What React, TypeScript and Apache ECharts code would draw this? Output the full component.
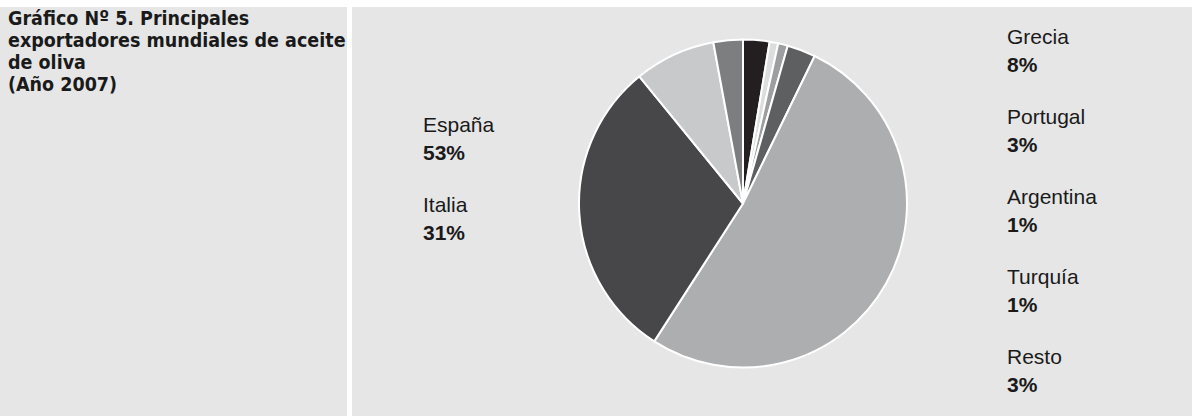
import React, { useEffect, useRef } from "react";
import * as echarts from "echarts";

const titleLines = [
  "Gráfico Nº 5. Principales",
  "exportadores mundiales de aceite",
  "de oliva",
  "(Año 2007)",
];

// slices clockwise from 12 o'clock (share of angle, %)
const sliceNames = ["Otros", "Argentina", "Turquía", "Resto", "España", "Italia", "Grecia", "Portugal"];
const sliceValues = [2.6, 0.85, 0.95, 2.8, 51.9, 30.0, 8.0, 2.9];
const sliceColors = ["#231f20", "#dcdddd", "#9d9ea0", "#5e5f61", "#adaeb0", "#47474a", "#c8c9ca", "#7d7e80"];

// printed labels
const leftLabels = ["España", "Italia"];
const rightLabels = ["Grecia", "Portugal", "Argentina", "Turquía", "Resto"];
const labelNames = ["España", "Italia", "Grecia", "Portugal", "Argentina", "Turquía", "Resto"];
const labelPercents = ["53%", "31%", "8%", "3%", "1%", "1%", "3%"];

const FONT = "'Liberation Sans', Arial, Helvetica, sans-serif";
const TITLE_FONT = "'DejaVu Sans Condensed', sans-serif";
const TEXT = "#1a1a1a";
const PANEL = "#e6e6e6";

function pctOf(name: string): string {
  const i = labelNames.indexOf(name);
  return i >= 0 ? labelPercents[i] : "";
}

function legendFor(names: string[], left: number, top: number) {
  return {
    data: names,
    orient: "vertical",
    left,
    top,
    padding: 0,
    icon: "none",
    itemWidth: 0,
    itemHeight: 10,
    itemGap: 31,
    selectedMode: false,
    formatter: (name: string) => `{n|${name}}\n{p|${pctOf(name)}}`,
    textStyle: {
      color: TEXT,
      rich: {
        n: { fontFamily: FONT, fontSize: 21, lineHeight: 28, color: TEXT },
        p: { fontFamily: FONT, fontSize: 21, lineHeight: 28, fontWeight: "bold", color: TEXT },
      },
    },
  };
}

export default function App() {
  const ref = useRef<HTMLDivElement>(null);

  useEffect(() => {
    if (!ref.current) return;
    const chart = echarts.init(ref.current, undefined, { renderer: "svg" });
    chart.setOption({
      animation: false,
      backgroundColor: "#ffffff",
      graphic: [
        { type: "rect", z: -10, silent: true, shape: { x: 0, y: 7, width: 347, height: 409 }, style: { fill: PANEL } },
        { type: "rect", z: -10, silent: true, shape: { x: 352, y: 7, width: 840, height: 409 }, style: { fill: PANEL } },
      ],
      title: {
        text: titleLines.join("\n"),
        left: 8,
        top: 7,
        padding: 0,
        textStyle: {
          fontFamily: TITLE_FONT,
          fontWeight: "bold",
          fontSize: 19.5,
          lineHeight: 22,
          color: TEXT,
        },
      },
      legend: [legendFor(leftLabels, 418, 113.5), legendFor(rightLabels, 1002, 26)],
      series: [
        {
          type: "pie",
          center: [743, 203.5],
          radius: 164,
          startAngle: 90,
          clockwise: true,
          label: { show: false },
          labelLine: { show: false },
          emphasis: { disabled: true },
          itemStyle: { borderColor: "#ffffff", borderWidth: 2 },
          data: sliceNames.map((n, i) => ({
            name: n,
            value: sliceValues[i],
            itemStyle: { color: sliceColors[i] },
          })),
        },
      ],
    });
    return () => chart.dispose();
  }, []);

  return (
    <div
      ref={ref}
      style={{ position: "fixed", left: 0, top: 0, width: 1192, height: 416 }}
    />
  );
}
